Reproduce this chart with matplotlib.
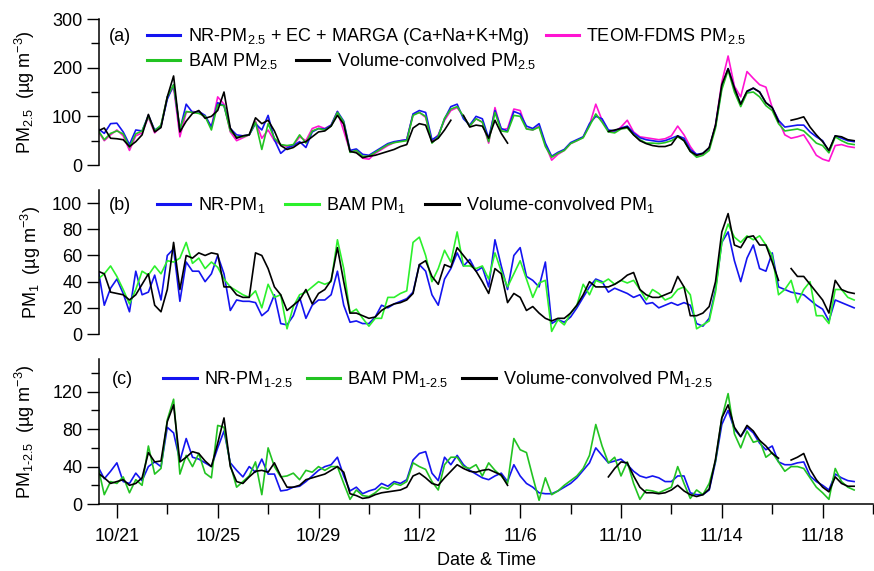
import numpy as np
import pandas as pd
import matplotlib
matplotlib.use("Agg")
import matplotlib.pyplot as plt
import matplotlib.dates as mdates

plt.rcParams["font.family"] = ["Liberation Sans", "DejaVu Sans"]
plt.rcParams["mathtext.fontset"] = "custom"
plt.rcParams["mathtext.rm"] = "Liberation Sans"
plt.rcParams["mathtext.it"] = "Liberation Sans:italic"
plt.rcParams["mathtext.bf"] = "Liberation Sans:bold"

nan = np.nan

# 6-hourly samples, 10/20 06:00 -> 11/19 06:00 (one row = one day)
times = pd.date_range("2014-10-20 06:00", periods=121, freq="6h")

# ---------------------------------------------------------------------------
# (a) PM2.5
# ---------------------------------------------------------------------------
nr_pm25 = [
    75, 65, 85, 86,   68, 42, 72, 70,   102, 72, 80, 135,   165, 72, 125, 108,
    110, 102, 78, 128,   122, 75, 62, 60,   62, 85, 72, 102,   52, 24, 35, 40,
    48, 36, 68, 75,   74, 82, 110, 90,   30, 33, 22, 20,   28, 36, 44, 48,
    50, 52, 105, 112,   108, 52, 60, 95,   120, 125, 95, 82,   100, 95, 55, 112,
    75, 70, 110, 105,   80, 75, 85, 45,   18, 26, 32, 46,   52, 58, 85, 100,
    95, 72, 70, 76,   80, 66, 56, 52,   50, 48, 50, 55,   60, 55, 32, 22,
    24, 35, 80, 160,   198, 158, 125, 150,   158, 150, 128, 118,   92, 78, 80, 82,
    82, 68, 58, 50,   28, 60, 55, 50,
    48,
]
bam_pm25 = [
    72, 52, 65, 70,   64, 36, 64, 70,   100, 70, 82, 140,   165, 75, 110, 108,
    106, 100, 72, 124,   122, 70, 58, 58,   62, 88, 32, 85,   55, 42, 40, 42,
    62, 45, 70, 75,   72, 80, 108, 88,   26, 30, 18, 18,   26, 34, 42, 46,
    48, 50, 102, 108,   100, 45, 58, 96,   115, 120, 100, 80,   95, 88, 48, 108,
    70, 68, 102, 100,   74, 72, 78, 38,   16, 24, 30, 44,   50, 56, 80, 105,
    88, 68, 66, 74,   76, 62, 52, 45,   45, 44, 46, 50,   58, 50, 28, 16,
    20, 30, 76, 155,   195, 150, 120, 148,   150, 140, 122, 112,   85, 70, 72, 74,
    70, 58, 45, 40,   25, 58, 50, 44,
    42,
]
teom_pm25 = [
    70, 50, 62, 72,   60, 30, 60, 66,   98, 66, 80, 140,   160, 58, 108, 110,
    108, 100, 78, 140,   125, 68, 50, 56,   62, 90, 55, 72,   50, 42, 38, 40,
    58, 50, 75, 80,   75, 82, 110, 70,   28, 28, 14, 12,   24, 32, 40, 46,
    50, 52, 104, 108,   98, 48, 62, 92,   112, 118, 100, 80,   95, 88, 45, 118,
    72, 75, 115, 112,   75, 72, 80, 42,   10, 22, 30, 44,   50, 57, 82, 125,
    92, 70, 68, 78,   92, 68, 58, 56,   54, 52, 54, 60,   80, 62, 38, 20,
    22, 34, 82, 170,   224, 162, 140, 192,   178, 165, 160, 118,   92, 62, 55, 58,
    62, 42, 20, 12,   8, 40, 42, 38,
    36,
]
vol_pm25 = [
    70, 76, 55, 54,   52, 38, 48, 62,   104, 68, 77, 140,   183, 68, 90, 106,
    112, 96, 100, 112,   150, 76, 55, 60,   62, 97, 85, 92,   70, 40, 32, 36,
    45, 48, 58, 68,   70, 80, 102, 84,   28, 25, 15, 18,   20, 24, 28, 32,
    38, 42, 76, 85,   82, 47, 55, 72,   92, nan, 102, 78,   82, 80, 55, 92,
    65, 45, nan, nan,   nan, nan, nan, nan,   nan, nan, nan, nan,   nan, nan, nan, nan,
    nan, 69, 72, 75,   78, 62, 50, 44,   40, 38, 38, 42,   60, 50, 28, 20,
    24, 36, 82, 165,   198, 158, 125, 152,   158, 150, 128, 118,   89, nan, 92, 95,
    99, 78, 62, 48,   30, 60, 58, 52,
    50,
]

# ---------------------------------------------------------------------------
# (b) PM1
# ---------------------------------------------------------------------------
nr_pm1 = [
    50, 22, 35, 42,   31, 17, 48, 30,   32, 45, 26, 60,   65, 25, 55, 48,
    48, 40, 46, 60,   46, 18, 26, 25,   25, 24, 14, 18,   30, 8, 7, 14,
    28, 12, 22, 26,   26, 30, 48, 22,   9, 10, 8, 8,   13, 22, 20, 23,
    25, 27, 32, 53,   48, 30, 22, 42,   50, 62, 52, 57,   48, 51, 36, 72,
    52, 34, 60, 66,   44, 41, 36, 55,   8, 11, 9, 13,   20, 28, 36, 42,
    40, 32, 35, 33,   31, 28, 30, 23,   24, 20, 22, 24,   22, 24, 22, 8,
    6, 12, 34, 70,   78, 56, 40, 58,   68, 50, 48, 62,   36, 34, 32, 31,
    30, 26, 22, 19,   10, 26, 24, 22,
    20,
]
bam_pm1 = [
    42, 46, 52, 44,   34, 23, 34, 48,   45, 52, 46, 56,   55, 58, 70, 54,
    58, 50, 55, 51,   42, 36, 33, 30,   28, 33, 20, 38,   28, 30, 4, 21,
    30, 32, 36, 40,   38, 40, 72, 50,   16, 19, 12, 6,   12, 12, 28, 28,
    31, 33, 70, 74,   60, 40, 50, 64,   55, 78, 52, 52,   50, 52, 42, 62,
    48, 36, 46, 56,   42, 28, 39, 41,   2, 11, 7, 16,   22, 38, 30, 41,
    39, 42, 38, 41,   39, 41, 34, 26,   34, 31, 26, 28,   34, 36, 30, 4,
    7, 10, 32, 70,   84, 74, 70, 75,   72, 75, 68, 60,   30, 34, 41, 24,
    34, 40, 14, 14,   8, 34, 34, 28,
    26,
]
vol_pm1 = [
    48, 46, 32, 31,   30, 26, 30, 38,   46, 22, 17, 34,   70, 34, 60, 58,
    62, 60, 62, 61,   36, 36, 30, 28,   28, 62, 60, 50,   36, 30, 18, 22,
    26, 34, 23, 31,   34, 41, 66, 40,   16, 16, 14, 12,   13, 18, 21, 23,
    24, 26, 31, 53,   56, 44, 38, 53,   51, 66, 60, 54,   48, 40, 31, 50,
    46, 24, 31, 28,   18, 21, 16, 12,   10, 12, 12, 16,   22, 30, 40, 36,
    36, 36, 38, 41,   45, 47, 34, 30,   28, 28, 30, 32,   44, 36, 14, 14,
    16, 21, 40, 78,   92, 68, 66, 74,   75, 68, 68, 55,   41, nan, 50, 44,
    44, 38, 32, 26,   16, 41, 34, 32,
    31,
]

# ---------------------------------------------------------------------------
# (c) PM1-2.5
# ---------------------------------------------------------------------------
nr_pm125 = [
    40, 27, 35, 44,   24, 22, 33, 25,   40, 45, 40, 82,   76, 46, 70, 50,
    48, 44, 40, 60,   78, 44, 36, 29,   40, 34, 48, 32,   32, 14, 15, 18,
    19, 24, 30, 36,   40, 42, 50, 30,   14, 18, 11, 14,   16, 22, 19, 24,
    22, 26, 47, 54,   56, 33, 25, 50,   42, 52, 42, 36,   32, 28, 26, 30,
    33, 24, 42, 30,   22, 18, 12, 11,   11, 14, 18, 22,   28, 36, 44, 60,
    52, 44, 46, 48,   42, 35, 30, 28,   30, 28, 24, 24,   30, 30, 12, 10,
    10, 15, 45, 85,   100, 80, 72, 82,   76, 65, 58, 62,   45, 42, 42, 44,
    45, 30, 24, 20,   15, 32, 28, 25,
    24,
]
bam_pm125 = [
    40, 10, 24, 22,   29, 12, 26, 20,   62, 32, 38, 90,   112, 32, 52, 40,
    54, 33, 28, 84,   82, 42, 18, 24,   30, 45, 10, 60,   40, 29, 30, 33,
    26, 36, 34, 40,   36, 40, 40, 22,   5, 15, 9, 8,   12, 18, 16, 22,
    20, 24, 44, 40,   37, 24, 15, 42,   50, 50, 40, 38,   42, 30, 44, 36,
    30, 22, 70, 58,   55, 29, 4, 28,   10, 14, 20, 25,   30, 38, 52, 85,
    62, 44, 50, 30,   45, 22, 5, 15,   14, 12, 15, 18,   40, 22, 6, 15,
    10, 22, 46, 92,   118, 75, 60, 78,   66, 68, 50, 55,   45, 35, 40, 40,
    38, 28, 18, 12,   5, 38, 24, 18,
    15,
]
vol_pm125 = [
    33, 28, 22, 24,   26, 20, 22, 28,   55, 45, 46, 88,   106, 45, 50, 56,
    54, 46, 40, 65,   92, 40, 24, 22,   29, 35, 36, 34,   44, 30, 18, 18,
    20, 26, 28, 30,   32, 36, 40, 34,   11, 9, 6, 7,   10, 12, 13, 14,
    15, 18, 30, 33,   28, 22, 20, 28,   35, 42, 38, 35,   34, 36, 37, 34,
    31, 20, nan, nan,   nan, nan, nan, nan,   nan, nan, nan, nan,   nan, nan, nan, nan,
    nan, 29, 38, 45,   44, 30, 18, 12,   12, 11, 12, 15,   20, 14, 10, 8,
    10, 16, 48, 92,   106, 82, 72, 84,   78, 68, 62, 54,   49, nan, 47, 50,
    54, 37, 26, 18,   13, 29, 22, 19,
    19,
]

major_ticks = pd.date_range("2014-10-21", periods=8, freq="4D")
minor_ticks = pd.date_range("2014-10-23", periods=8, freq="4D")
xlim = (pd.Timestamp("2014-10-20 07:00"), pd.Timestamp("2014-11-19 06:00"))

BLUE = "#1414f0"
GREEN = "#22c322"
LIME = "#2cf02c"
MAGENTA = "#ff14d2"
LW = 1.2
FS = 13

fig = plt.figure(figsize=(8.74, 5.71), dpi=100)
ax_a = fig.add_axes([0.1133, 0.711, 0.8856, 0.2557])
ax_b = fig.add_axes([0.1133, 0.415, 0.8856, 0.2522])
ax_c = fig.add_axes([0.1133, 0.1173, 0.8856, 0.254])


def style(ax, bottom):
    ax.spines["top"].set_visible(False)
    ax.spines["right"].set_visible(False)
    ax.spines["left"].set_linewidth(1.1)
    ax.spines["bottom"].set_linewidth(1.1)
    ax.spines["bottom"].set_visible(bottom)
    ax.set_xlim(*xlim)
    ax.tick_params(axis="y", which="major", direction="out", length=9, width=1.0,
                   labelsize=FS, pad=3)
    ax.tick_params(axis="y", which="minor", direction="out", length=5.5, width=1.0)
    ax.set_xticks(major_ticks)
    ax.set_xticks(minor_ticks, minor=True)
    if bottom:
        ax.tick_params(axis="x", which="major", direction="out", length=10, width=1.0,
                       labelsize=FS, pad=7)
        ax.tick_params(axis="x", which="minor", direction="out", length=7, width=1.0)
        ax.xaxis.set_major_formatter(mdates.DateFormatter("%-m/%-d"))
    else:
        ax.tick_params(axis="x", which="both", bottom=False, labelbottom=False)


def fat_legend(leg):
    for line in leg.get_lines():
        line.set_linewidth(2.2)


leg_kw = dict(frameon=False, fontsize=FS, loc="center left", borderpad=0, borderaxespad=0,
              handlelength=1.85, handletextpad=0.4)

# (a)
ax_a.plot(times, teom_pm25, color=MAGENTA, lw=LW, label="TEOM-FDMS PM$_{2.5}$")
ax_a.plot(times, nr_pm25, color=BLUE, lw=LW, label="NR-PM$_{2.5}$ + EC + MARGA (Ca+Na+K+Mg)")
ax_a.plot(times, bam_pm25, color=GREEN, lw=LW, label="BAM PM$_{2.5}$")
ax_a.plot(times, vol_pm25, color="black", lw=LW, label="Volume-convolved PM$_{2.5}$")
style(ax_a, False)
ax_a.set_ylim(0, 300)
ax_a.set_yticks([0, 100, 200, 300])
ax_a.set_yticks([50, 150, 250], minor=True)
ax_a.set_ylabel("PM$_{2.5}$  (µg m$^{-3}$)", fontsize=FS)
ax_a.yaxis.set_label_coords(-0.08, 0.5)
ax_a.text(0.013, 0.877, "(a)", transform=ax_a.transAxes, fontsize=FS, va="center")

h, l = ax_a.get_legend_handles_labels()
leg1 = ax_a.legend([h[1], h[0]], [l[1], l[0]], bbox_to_anchor=(0.062, 0.877), ncol=2,
                   columnspacing=0.9, **leg_kw)
fat_legend(leg1)
ax_a.add_artist(leg1)
leg2 = ax_a.legend([h[2], h[3]], [l[2], l[3]], bbox_to_anchor=(0.062, 0.712), ncol=2,
                   columnspacing=1.0, **leg_kw)
fat_legend(leg2)

# (b)
ax_b.plot(times, nr_pm1, color=BLUE, lw=LW, label="NR-PM$_1$")
ax_b.plot(times, bam_pm1, color=LIME, lw=LW, label="BAM PM$_1$")
ax_b.plot(times, vol_pm1, color="black", lw=LW, label="Volume-convolved PM$_1$")
style(ax_b, False)
ax_b.set_ylim(0, 110)
ax_b.set_yticks([0, 20, 40, 60, 80, 100])
ax_b.set_ylabel("PM$_1$  (µg m$^{-3}$)", fontsize=FS)
ax_b.yaxis.set_label_coords(-0.073, 0.5)
ax_b.text(0.013, 0.896, "(b)", transform=ax_b.transAxes, fontsize=FS, va="center")
fat_legend(ax_b.legend(bbox_to_anchor=(0.075, 0.896), ncol=3, columnspacing=1.1, **leg_kw))

# (c)
ax_c.plot(times, nr_pm125, color=BLUE, lw=LW, label="NR-PM$_{1\u20102.5}$")
ax_c.plot(times, bam_pm125, color=GREEN, lw=LW, label="BAM PM$_{1\u20102.5}$")
ax_c.plot(times, vol_pm125, color="black", lw=LW, label="Volume-convolved PM$_{1\u20102.5}$")
style(ax_c, True)
ax_c.set_ylim(0, 155)
ax_c.set_yticks([0, 40, 80, 120])
ax_c.set_yticks([20, 60, 100, 140], minor=True)
ax_c.set_ylabel("PM$_{1\u20102.5}$  (µg m$^{-3}$)", fontsize=FS)
ax_c.yaxis.set_label_coords(-0.08, 0.5)
ax_c.text(0.017, 0.862, "(c)", transform=ax_c.transAxes, fontsize=FS, va="center")
fat_legend(ax_c.legend(bbox_to_anchor=(0.083, 0.862), ncol=3, columnspacing=0.75, **leg_kw))
ax_c.set_xlabel("Date & Time", fontsize=FS, labelpad=5)

fig.savefig("out.png", dpi=100)
